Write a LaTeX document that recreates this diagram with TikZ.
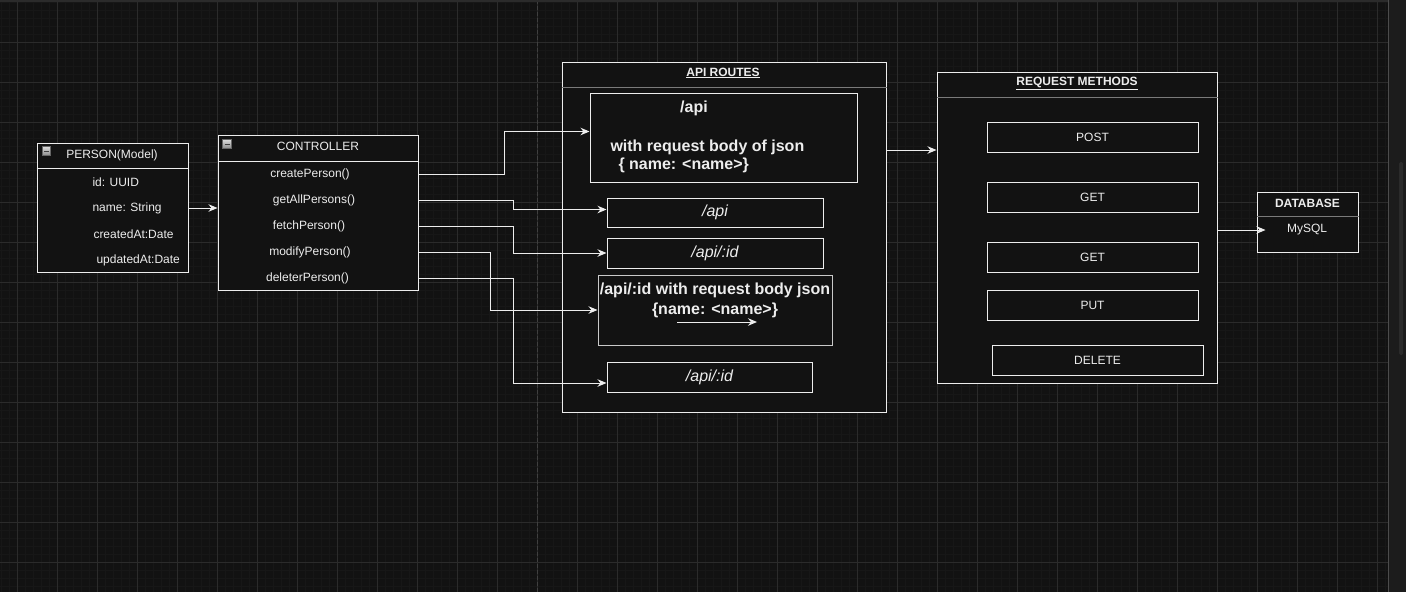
\documentclass[tikz,border=0pt]{standalone}
\usepackage{fontspec}
\setmainfont{Liberation Sans}
\usetikzlibrary{calc, positioning, arrows.meta}

\definecolor{canvas}{HTML}{121212}
\definecolor{minorgrid}{HTML}{171717}
\definecolor{majorgrid}{HTML}{2B2B2B}
\definecolor{inkline}{HTML}{EDEDED}
\definecolor{sepline}{HTML}{7A7A7A}
\definecolor{sidepanel}{HTML}{1C1C1C}

\begin{document}
\begin{tikzpicture}[
    x=1pt, y=-1pt,
    >={Stealth[length=9pt, width=7.5pt]},
    line width=1pt,
    font=\fontsize{12}{14}\selectfont
]

    % Global styles
    \tikzset{
        frame/.style={draw=inkline, fill=canvas, text=inkline, inner sep=0pt},
        label/.style={inner sep=0pt, text=inkline},
        heading/.style={label, font=\fontsize{12}{14}\selectfont\bfseries},
        bigbold/.style={label, font=\fontsize{16}{19.3}\selectfont\bfseries},
        bigital/.style={label, font=\fontsize{16}{19}\selectfont\itshape},
        wire/.style={draw=inkline, ->},
        minusicon/.style={draw=black!60, top color=white!85!black, bottom color=white!55!black,
            minimum size=8.5pt, inner sep=0pt, line width=0.6pt}
    }

    % Canvas and grid
    \useasboundingbox (0,0) rectangle (1406,592);
    \fill[canvas] (0,0) rectangle (1406,592);
    \foreach \x in {1,9,...,1385} \draw[minorgrid, line width=0.6pt] (\x,0) -- (\x,592);
    \foreach \y in {2,10,...,590} \draw[minorgrid, line width=0.6pt] (0,\y) -- (1388,\y);
    \foreach \x in {17,57,...,1377} \draw[majorgrid, line width=0.8pt] (\x,0) -- (\x,592);
    \foreach \y in {42,82,...,582} \draw[majorgrid, line width=0.8pt] (0,\y) -- (1388,\y);
    \draw[black!75!white, dash pattern=on 4pt off 2pt, line width=0.8pt] (537,0) -- (537,592);
    \draw[majorgrid, line width=2pt] (0,1) -- (1388,1);
    \fill[sidepanel] (1388,0) rectangle (1406,592);
    \draw[black!70!white, line width=1pt] (1388,0) -- (1388,592);
    \fill[majorgrid, rounded corners=1.5pt] (1399,162) rectangle (1403,355);

    % PERSON model
    \node[frame, minimum width=151, minimum height=129] (person) at (112.5,207.5) {};
    \draw[inkline] (person.west |- 0,168) -- (person.east |- 0,168);
    \node[minusicon] (pIcon) at (46.5,151) {};
    \draw[black!75, line width=1pt] ($(pIcon.center)+(-2.5,0)$) -- ++(5,0);
    \node[label] (pTitle) at (112,155) {PERSON(Model)};
    \node[label, anchor=west] (pId) at (92,182) {id: UUID};
    \node[label, anchor=west] (pName) at (92,208) {name: String};
    \node[label, anchor=west] (pCreated) at (93,234) {createdAt:Date};
    \node[label, anchor=west] (pUpdated) at (96,260) {updatedAt:Date};

    % CONTROLLER
    \node[frame, minimum width=200, minimum height=155] (ctrl) at (318,212.5) {};
    \draw[inkline] (ctrl.west |- 0,161) -- (ctrl.east |- 0,161);
    \node[minusicon] (cIcon) at (227,144) {};
    \draw[black!75, line width=1pt] ($(cIcon.center)+(-2.5,0)$) -- ++(5,0);
    \node[label] (cTitle) at (318,146) {CONTROLLER};
    \node[label] (createP) at (310,174) {createPerson()};
    \node[label] (getAllP) at (314,200) {getAllPersons()};
    \node[label] (fetchP) at (309,226) {fetchPerson()};
    \node[label] (modifyP) at (310,252) {modifyPerson()};
    \node[label] (deleteP) at (307.5,278) {deleterPerson()};

    % API ROUTES
    \node[frame, minimum width=324, minimum height=350] (api) at (724,237) {};
    \draw[sepline] (api.west |- 0,87) -- (api.east |- 0,87);
    \node[heading] (aTitle) at (723,73) {\underline{API ROUTES}};

    \node[frame, minimum width=267, minimum height=89] (R1) at (723.5,137.5) {};
    \node[bigbold] (r1Path) at (694,108) {/api};
    \node[bigbold, anchor=west] (r1Body) at (610,147) {with request body of json};
    \node[bigbold, anchor=west] (r1Json) at (618,165) {\{ name: <name>\}};

    \node[frame, minimum width=216, minimum height=29] (R2) at (715,212.5) {};
    \node[bigital] at (R2) {/api};

    \node[frame, minimum width=216, minimum height=30] (R3) at (715,253) {};
    \node[bigital] at (R3) {/api/:id};

    \node[frame, draw=inkline!85!black, minimum width=234, minimum height=70] (R4) at (715,310) {};
    \node[bigbold, align=center] (r4Text) at (715,300.5) {/api/:id with request body json\\\{name: <name>\}};
    \coordinate (strayA) at (677,322);
    \coordinate (strayB) at (757,322);
    \draw[wire] (strayA) -- (strayB);

    \node[frame, minimum width=205, minimum height=30] (R5) at (709.5,377) {};
    \node[bigital] at (R5) {/api/:id};

    % REQUEST METHODS
    \node[frame, minimum width=280, minimum height=311] (req) at (1077,227.5) {};
    \draw[sepline] (req.west |- 0,97) -- (req.east |- 0,97);
    \node[heading] (qTitle) at (1077,83) {\underline{REQUEST METHODS}};

    \node[frame, minimum width=211, minimum height=30] (M1) at (1092.5,137) {POST};
    \node[frame, minimum width=211, minimum height=30] (M2) at (1092.5,197) {GET};
    \node[frame, minimum width=211, minimum height=30] (M3) at (1092.5,257) {GET};
    \node[frame, minimum width=211, minimum height=30] (M4) at (1092.5,305) {PUT};
    \node[frame, minimum width=211, minimum height=30] (M5) at (1097.5,360) {DELETE};

    % DATABASE
    \node[frame, minimum width=101, minimum height=60] (db) at (1307.5,222) {};
    \draw[sepline] (db.west |- 0,216) -- (db.east |- 0,216);
    \node[heading] (dTitle) at (1307.5,203) {DATABASE};
    \node[label] (mysql) at (1307,230) {MySQL};

    % Wiring
    \draw[wire] (pName -| person.east) -- (pName -| ctrl.west);
    \draw[wire] (createP -| ctrl.east) -- ++(86,0) |- ([yshift=6pt]R1.west);
    \draw[wire] (getAllP -| ctrl.east) -- ++(95,0) |- ([yshift=3pt]R2.west);
    \draw[wire] (fetchP -| ctrl.east) -- ++(95,0) |- (R3.west);
    \draw[wire] (modifyP -| ctrl.east) -- ++(72,0) |- (R4.west);
    \draw[wire] (deleteP -| ctrl.east) -- ++(95,0) |- ([yshift=-6pt]R5.west);
    \draw[wire] ([yshift=87pt]api.east) -- ([yshift=87pt]api.east -| req.west);
    \draw[wire] (req.east |- mysql) -- ([xshift=9pt]mysql -| db.west);

\end{tikzpicture}
\end{document}
